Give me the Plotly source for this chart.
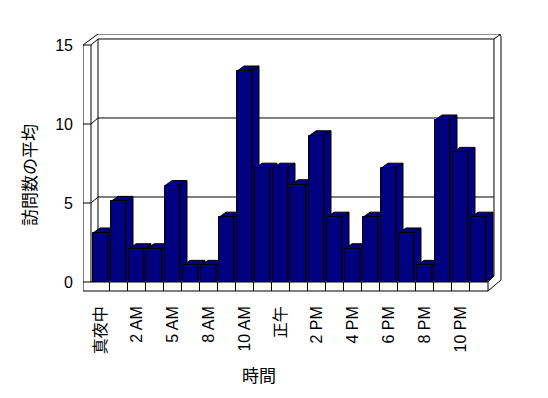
import plotly.graph_objects as go

# ---------------- data ----------------
hours = ["真夜中", "1 AM", "2 AM", "4 AM", "5 AM", "7 AM", "8 AM", "9 AM",
         "10 AM", "11 AM", "正午", "1 PM", "2 PM", "3 PM", "4 PM", "5 PM",
         "6 PM", "7 PM", "8 PM", "9 PM", "10 PM", "11 PM"]
visits = [3.1, 5.1, 2.1, 2.1, 6.1, 1.05, 1.05, 4.1, 13.35, 7.2, 7.2, 6.15,
          9.25, 4.1, 2.1, 4.1, 7.2, 3.1, 1.05, 10.25, 8.2, 4.1]
tick_positions = [0, 2, 4, 6, 8, 10, 12, 14, 16, 18, 20]
tick_labels = [hours[i] for i in tick_positions]
y_ticks = [0, 5, 10, 15]
y_title = "訪問数の平均"
x_title = "時間"

# ---------------- style / geometry ----------------
NAVY = "#000080"
FONT = "Liberation Sans, Arial, Noto Sans CJK JP, sans-serif"
W = 0.833          # front face width (category units)
BDX, BDY = 0.39, 0.32   # bar depth offset
XR = [-0.972, 22.306]
YR = [-0.633, 15.696]

FX0, FX1, BX0 = -0.972, -0.528, -0.139
BX1, BX2, FXR = 21.86, 22.25, 21.53
DY = 0.38
FLOOR = -0.57
TOP = 15

idx = list(range(len(visits)))

fig = go.Figure()

# side and top faces of each bar (depth effect), drawn left to right
for i, v in zip(idx, visits):
    L, R = i - W / 2, i + W / 2
    xs = [L, R, R + BDX, L + BDX, L, None, R, R + BDX, R + BDX, R, R]
    ys = [v, v, v + BDY, v + BDY, v, None, 0, BDY, v + BDY, v, 0]
    fig.add_trace(go.Scatter(x=xs, y=ys, mode="lines", fill="toself",
                             fillcolor=NAVY, line=dict(color="black", width=1),
                             hoverinfo="skip", showlegend=False))

# front faces
fig.add_trace(go.Bar(x=idx, y=visits, width=W, xaxis="x2", yaxis="y2",
                     marker=dict(color=NAVY, line=dict(color="black", width=1)),
                     showlegend=False, hovertext=hours))

shapes = []
def line(x0, y0, x1, y1):
    shapes.append(dict(type="line", xref="x", yref="y", x0=x0, y0=y0, x1=x1, y1=y1,
                       line=dict(color="black", width=1), layer="below"))

# left wall
line(FX0, FLOOR, FX0, TOP)
line(FX1, 0, FX1, TOP)
line(FX0, TOP, FX1, TOP)
line(FX0, TOP, BX0, 15.70)
line(FX1, TOP, BX0, TOP + DY)
# back wall
line(BX0, DY, BX0, TOP + DY)
line(BX0, 15.70, BX2 - 0.12, 15.70)
line(BX2 - 0.12, 15.70, BX2, 15.55)
line(BX0, TOP + DY, BX1, TOP + DY)
line(BX1, TOP + DY, BX2, 15.70)
line(BX1, DY, BX1, TOP + DY)
line(BX2, 0.13, BX2, 15.55)
# floor
line(FX1, 0, FXR, 0)
line(FX0, FLOOR, FXR, FLOOR)
line(FXR, FLOOR, FXR, 0)
line(FXR, FLOOR, BX2, 0.13)
line(FXR, 0, BX1, DY)
line(BX0, DY, BX1, DY)
for i in idx[:-1]:
    line(i + 0.5, FLOOR, i + 0.5, 0)
# gridlines
for g in y_ticks[1:-1]:
    line(FX0, g, FX1, g)
    line(FX1, g, BX0, g + DY)
    line(BX0, g + DY, BX1, g + DY)
line(FX0, 0, FX1, 0)
line(FX1, 0, BX0, DY)

ann = [
    dict(text=y_title, xref="paper", yref="paper", x=(30 - 83) / 419, y=(292 - 175) / 258,
         textangle=-90, showarrow=False, font=dict(size=17, family=FONT, color="black"),
         xanchor="center", yanchor="middle"),
    dict(text=x_title, xref="paper", yref="paper", x=(259 - 83) / 419, y=(292 - 376) / 258,
         showarrow=False, font=dict(size=17, family=FONT, color="black"),
         xanchor="center", yanchor="middle"),
]

fig.update_layout(
    width=548, height=398,
    margin=dict(l=83, r=46, t=34, b=106, pad=0),
    paper_bgcolor="white", plot_bgcolor="white",
    font=dict(family=FONT, size=16, color="black"),
    shapes=shapes, annotations=ann, bargap=0,
    xaxis=dict(range=XR, showgrid=False, zeroline=False, showline=False,
               tickmode="array", tickvals=tick_positions, ticktext=tick_labels,
               tickangle=-90, ticks="", ticklabelstandoff=10, fixedrange=True,
               tickfont=dict(color="black", size=16, family=FONT)),
    yaxis=dict(range=YR, showgrid=False, zeroline=False, showline=False,
               tickmode="array", tickvals=y_ticks, ticks="", ticklabelstandoff=9,
               fixedrange=True, tickfont=dict(color="black", size=16, family=FONT)),
    xaxis2=dict(range=XR, overlaying="x", visible=False, fixedrange=True),
    yaxis2=dict(range=YR, overlaying="y", visible=False, fixedrange=True),
)

fig.write_html("out.html", config={"displayModeBar": False},
               post_script="document.body.style.margin='0';")
